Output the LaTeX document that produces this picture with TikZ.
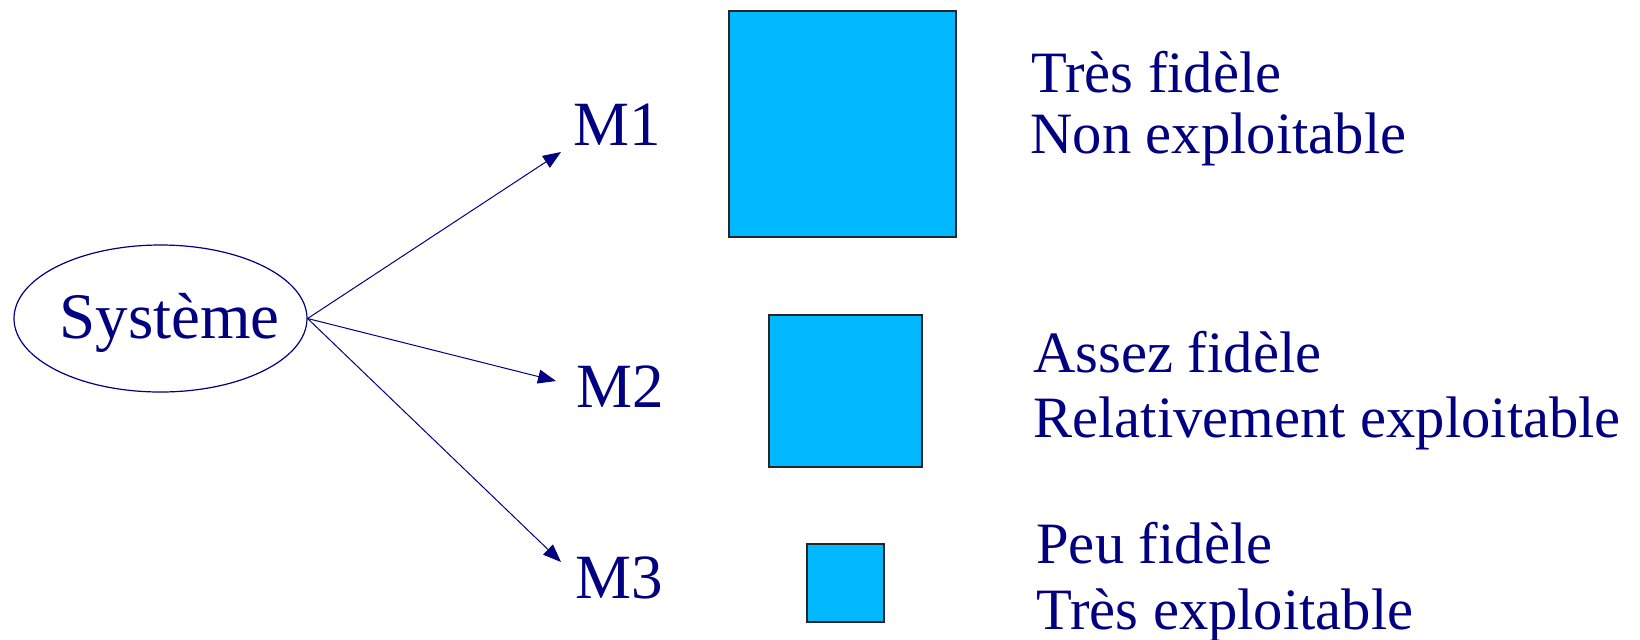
\documentclass[tikz,border=0pt]{standalone}
\usepackage{fontspec}
\setmainfont{Liberation Serif}
\usetikzlibrary{shapes.geometric,arrows.meta}
\definecolor{navy}{RGB}{0,0,128}
\definecolor{boxfill}{RGB}{0,184,255}
\tikzset{
  big/.style={font=\fontsize{31.5pt}{36pt}\selectfont, text=navy, inner sep=0pt, anchor=base west},
  small/.style={font=\fontsize{29.3pt}{34pt}\selectfont, text=navy, inner sep=0pt, anchor=base west},
  conn/.style={draw=navy, line width=0.5pt, -{Triangle[length=9pt,width=7pt]}},
  sq/.style={fill=boxfill, draw=black!85, line width=0.6pt}
}
\begin{document}
\begin{tikzpicture}[x=0.5pt,y=-0.5pt]
\useasboundingbox (0,0) rectangle (1640,639);
% ellipse
\node[ellipse, draw=navy, line width=0.6pt, minimum width=146.5pt, minimum height=73.5pt, inner sep=0pt] (sys) at (160.5,318.5) {};
\node[big, font=\fontsize{32.5pt}{37pt}\selectfont] (systxt) at (59,338) {Système};
% model labels
\node[big] (m1) at (573,145) {M1};
\node[big] (m2) at (576,407) {M2};
\node[big] (m3) at (575,598) {M3};
% arrow targets
\coordinate (t1) at (561,152);
\coordinate (t2) at (556,381);
\coordinate (t3) at (561,562);
\draw[conn] (sys.east) -- (t1);
\draw[conn] (sys.east) -- (t2);
\draw[conn] (sys.east) -- (t3);
% squares
\draw[sq] (729,11) rectangle (956,237);
\draw[sq] (769,315) rectangle (922,467);
\draw[sq] (807,544) rectangle (884,622);
% descriptions
\node[small] (d1a) at (1031,92) {Très fidèle};
\node[small] (d1b) at (1030,153) {Non exploitable};
\node[small] (d2a) at (1033,372) {Assez fidèle};
\node[small] (d2b) at (1033,437) {Relativement exploitable};
\node[small] (d3a) at (1036,563) {Peu fidèle};
\node[small] (d3b) at (1036,629) {Très exploitable};
\end{tikzpicture}
\end{document}
